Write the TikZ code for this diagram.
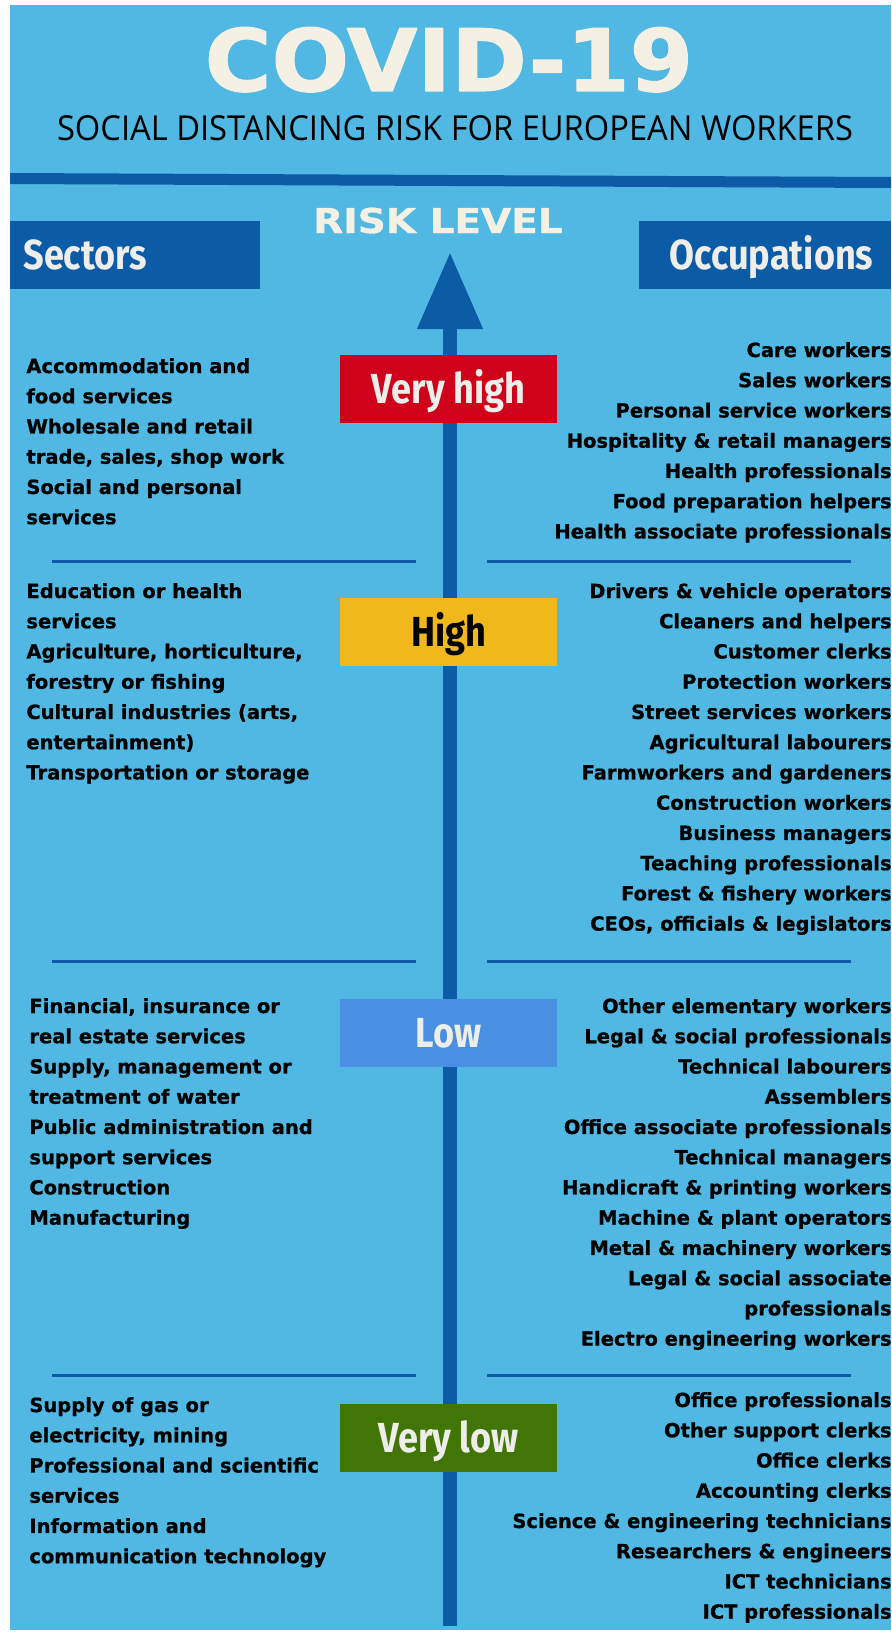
\documentclass[tikz,border=0pt]{standalone}
\usepackage{fontspec}
\usetikzlibrary{arrows.meta}
\setmainfont{DejaVu Sans}[BoldFeatures={FakeBold=0.8}]
\newfontfamily\titlefont{DejaVu Sans}[FakeStretch=1.06, BoldFeatures={FakeBold=1.5}]
\newfontfamily\riskfont{DejaVu Sans}[FakeStretch=1.14, BoldFeatures={FakeBold=1}]
\newfontfamily\subfont{Open Sans}[FakeStretch=0.95]
\newfontfamily\headfont{Fira Sans}[FakeStretch=0.86]
\definecolor{nenxanh}{HTML}{50B8E2}
\definecolor{xanhdam}{HTML}{0B5BA6}
\definecolor{kem}{HTML}{F4F0E3}
\definecolor{chuhop}{HTML}{EDEEEA}
\definecolor{mucdo}{HTML}{D0021B}
\definecolor{mucvang}{HTML}{F0B81A}
\definecolor{mucthap}{HTML}{4A90E2}
\definecolor{mucxanh}{HTML}{417505}
\begin{document}
\begin{tikzpicture}[x=0.5pt, y=-0.5pt, line join=round,
  ds/.style={font=\fontsize{9.75}{12}\selectfont\bfseries, inner sep=0pt, text=black},
  hophead/.style={fill=xanhdam, text=chuhop, font=\headfont\bfseries\fontsize{21}{21}\selectfont,
    minimum height=34pt, text height=14.5pt, text depth=0pt, inner ysep=0pt, anchor=north west},
  hopmuc/.style={minimum width=108.5pt, minimum height=34pt, text height=14.5pt, text depth=0pt,
    inner sep=0pt, font=\headfont\bfseries\fontsize{21}{21}\selectfont, text=chuhop},
  ke/.style={xanhdam, line width=1.5pt}]
\useasboundingbox (0,0) rectangle (891,1634);
% Vẽ nền
\fill[nenxanh] (10,5) rectangle (891,1630);
% Tiêu đề
\node[text=kem, font=\titlefont\bfseries\fontsize{43}{43}\selectfont, anchor=base, inner sep=0pt] (tieude) at (449,91) {COVID-19};
\node[font=\subfont\fontsize{17.2}{17.2}\selectfont, anchor=base, inner sep=0pt] (phude) at (455,140) {SOCIAL DISTANCING RISK FOR EUROPEAN WORKERS};
\fill[xanhdam] (10,173) -- (891,177) -- (891,188) -- (10,184) -- cycle;
\node[text=kem, font=\riskfont\bfseries\fontsize{17.1}{17.1}\selectfont, anchor=base, inner sep=0pt] (mucrr) at (438,233) {RISK LEVEL};
\node[hophead, minimum width=125pt, text width=112pt, align=left, inner xsep=6.5pt] (nganh) at (10,221) {Sectors};
\node[hophead, minimum width=126pt, text width=108pt, align=right, inner xsep=9pt] (nghe) at (639,221) {Occupations};
% Trục mức rủi ro
\coordinate (chan) at (450,1626);
\coordinate (dinh) at (450,252);
\draw[xanhdam, line width=7pt, -{Triangle[width=31pt,length=38.5pt]}] (chan) -- (dinh);
% Các đường kẻ ngang
\foreach \y in {561,961,1375}
{\draw[ke] (52,\y) -- (416,\y); \draw[ke] (487,\y) -- (851,\y);}
% Các ô mức độ
\node[hopmuc, fill=mucdo] (rc) at (448.5,389) {Very high};
\node[hopmuc, fill=mucvang, text=black] (c) at (448.5,632) {High};
\node[hopmuc, fill=mucthap] (t) at (448.5,1033) {Low};
\node[hopmuc, fill=mucxanh] (rt) at (448.5,1437.5) {Very low};
% Cột trái: ngành
\foreach \t [count=\i from 0] in {Accommodation and, food services, Wholesale and retail,
  {trade, sales, shop work}, Social and personal, services}
\node[ds, anchor=base west] (rcL\i) at (26,{373+30.24*\i}) {\t};
\foreach \t [count=\i from 0] in {Education or health, services, {Agriculture, horticulture,},
  forestry or fishing, {Cultural industries (arts,}, entertainment), Transportation or storage}
\node[ds, anchor=base west] (cL\i) at (26,{598+30.24*\i}) {\t};
\foreach \t [count=\i from 0] in {{Financial, insurance or}, real estate services, {Supply, management or},
  treatment of water, Public administration and, support services, Construction, Manufacturing}
\node[ds, anchor=base west] (tL\i) at (29,{1013+30.24*\i}) {\t};
\foreach \t [count=\i from 0] in {Supply of gas or, {electricity, mining}, Professional and scientific,
  services, Information and, communication technology}
\node[ds, anchor=base west] (rtL\i) at (29,{1412+30.24*\i}) {\t};
% Cột phải: nghề
\foreach \t [count=\i from 0] in {Care workers, Sales workers, Personal service workers,
  Hospitality \& retail managers, Health professionals, Food preparation helpers, Health associate professionals}
\node[ds, anchor=base east] (rcR\i) at (892,{357+30.24*\i}) {\t};
\foreach \t [count=\i from 0] in {Drivers \& vehicle operators, Cleaners and helpers, Customer clerks,
  Protection workers, Street services workers, Agricultural labourers, Farmworkers and gardeners,
  Construction workers, Business managers, Teaching professionals, Forest \& fishery workers,
  {CEOs, officials \& legislators}}
\node[ds, anchor=base east] (cR\i) at (892,{598+30.24*\i}) {\t};
\foreach \t [count=\i from 0] in {Other elementary workers, Legal \& social professionals, Technical labourers,
  Assemblers, Office associate professionals, Technical managers, Handicraft \& printing workers,
  Machine \& plant operators, Metal \& machinery workers, Legal \& social associate, professionals,
  Electro engineering workers}
\node[ds, anchor=base east] (tR\i) at (892,{1013+30.24*\i}) {\t};
\foreach \t [count=\i from 0] in {Office professionals, Other support clerks, Office clerks, Accounting clerks,
  Science \& engineering technicians, Researchers \& engineers, ICT technicians, ICT professionals}
\node[ds, anchor=base east] (rtR\i) at (892,{1407+30.24*\i}) {\t};
\end{tikzpicture}
\end{document}
